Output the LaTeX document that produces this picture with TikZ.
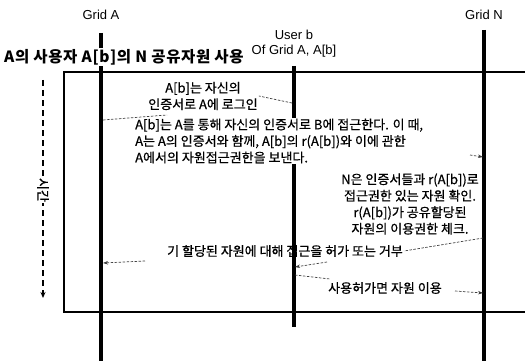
\documentclass[tikz,border=0pt]{standalone}
\usepackage{fontspec}
\setmainfont{Liberation Sans}
\newfontfamily\kr[FakeBold=0.6]{Noto Sans CJK KR}
\newfontfamily\krb[LetterSpace=4]{Noto Sans CJK KR}
\usetikzlibrary{arrows.meta}
\begin{document}
\begin{tikzpicture}[x=1pt,y=-1pt,
  life/.style={line width=3.2pt},
  frame/.style={line width=2.4pt},
  msg/.style={line width=0.7pt, dash pattern=on 2.5pt off 1.5pt, black!75},
  arr/.style={msg, -{Stealth[length=5pt,width=3.5pt]}},
  hdr/.style={font=\fontsize{13}{15}\selectfont, inner sep=0pt, align=center},
  txt/.style={font=\kr\fontsize{13}{16.5}\selectfont, inner sep=1pt},
  wtxt/.style={txt, fill=white}]
\useasboundingbox (0,0) rectangle (525,361);
\fill[white] (0,0) rectangle (525,361);

% lifeline end points
\coordinate (At) at (101,33);  \coordinate (Ab) at (101,361);
\coordinate (Bt) at (294,66);  \coordinate (Bb) at (294,327);
\coordinate (Nt) at (484,30);  \coordinate (Nb) at (484,361);

% frame
\coordinate (f1) at (525,72); \coordinate (f2) at (64,72);
\coordinate (f3) at (64,312); \coordinate (f4) at (525,312);
\draw[frame] (f1) -- (f2) -- (f3) -- (f4);

% lifelines
\draw[life] (At) -- (Ab);
\draw[life] (Bt) -- (Bb);
\draw[life] (Nt) -- (Nb);

% headers
\node[hdr] (gA) at (101,15) {Grid A};
\node[hdr] (gN) at (484,15) {Grid N};
\node[hdr] (ub) at (294,44) {User b\\Of Grid A, A[b]};
\node[font=\krb\bfseries\fontsize{15.5}{17}\selectfont, anchor=west, inner sep=1pt, fill=white] (title) at (3,57) {A의 사용자 A[b]의 N 공유자원 사용};

% time arrow
\coordinate (t1) at (43,80); \coordinate (t2) at (43,298);
\draw[line width=1.5pt, dash pattern=on 6pt off 4pt, -{Stealth[length=6pt,width=5pt]}] (t1) -- (t2);
\node[txt, fill=white, rotate=-90] (time) at (43,190) {시간};

% message texts
\node[txt, align=center] (m1) at (203,96) {A[b]는 자신의\\인증서로 A에 로그인};
\node[wtxt, align=left, anchor=west] (m2) at (134,141) {A[b]는 A를 통해 자신의 인증서로 B에 접근한다. 이 때,\\A는 A의 인증서와 함께, A[b]의 r(A[b])와 이에 관한\\A에서의 자원접근권한을 보낸다.};
\node[wtxt, align=center] (m3) at (410,204) {N은 인증서들과 r(A[b])로\\접근권한 있는 자원 확인.\\r(A[b])가 공유할당된\\자원의 이용권한 체크.};
\node[txt] (m4) at (285,251) {기 할당된 자원에 대해 접근을 허가 또는 거부};
\node[txt] (m5) at (385,288) {사용허가면 자원 이용};

% connector points
\coordinate (B1) at (292,103);
\coordinate (A1) at (103,120); \coordinate (m1l) at (167,115);
\coordinate (m2r) at (470,155); \coordinate (N2) at (483,157);
\coordinate (N4) at (483,238);
\coordinate (m4l) at (145,261); \coordinate (A4) at (103,263);
\coordinate (m4b) at (327,262); \coordinate (B4) at (295,267);
\coordinate (B5) at (295,275); \coordinate (m5l) at (330,279);
\coordinate (m5r) at (455,291); \coordinate (N5) at (483,293);

% connectors
\draw[msg] (B1) -- (m1.east);
\draw[msg] (A1) -- (m1l);
\draw[arr] (m2r) -- (N2);
\draw[msg] (N4) -- (m4.east);
\draw[arr] (m4l) -- (A4);
\draw[arr] (m4b) -- (B4);
\draw[msg] (B5) -- (m5l);
\draw[arr] (m5r) -- (N5);
\end{tikzpicture}
\end{document}
